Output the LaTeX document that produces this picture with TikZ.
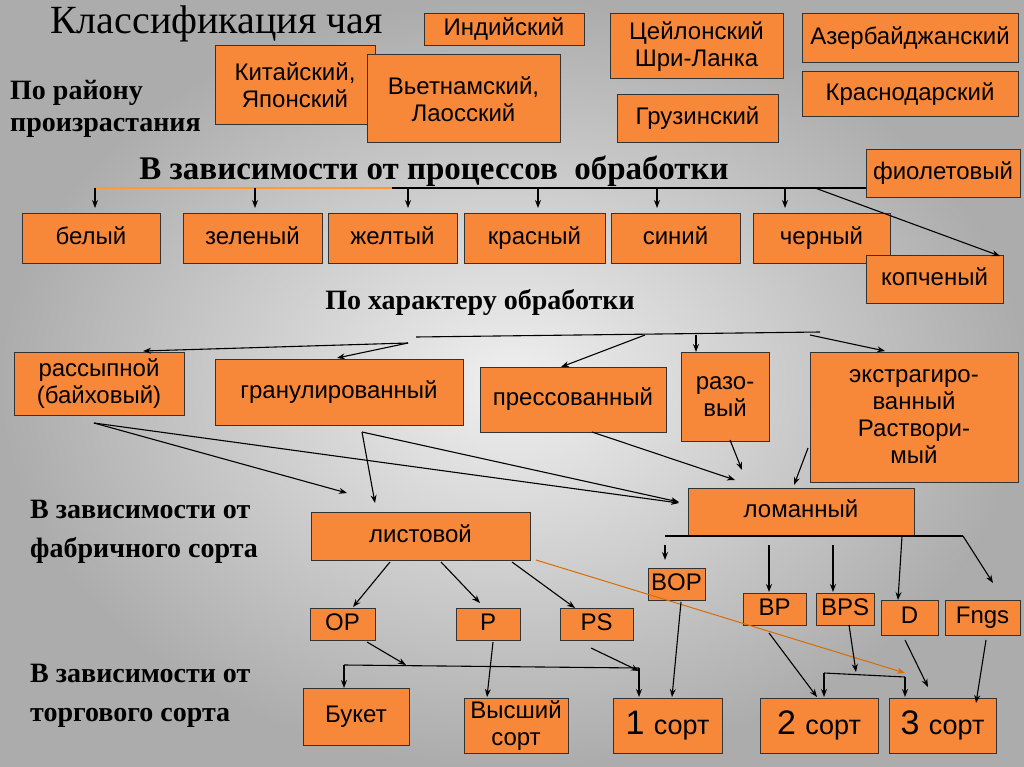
\documentclass[tikz,border=0pt]{standalone}
\usepackage{fontspec}
\setmainfont{Liberation Sans}
\newfontfamily\serifb{Liberation Serif}
\usetikzlibrary{arrows.meta}
\definecolor{org}{HTML}{F7883A}
\newcommand\bx[6]{\node[box,minimum width={(#4-#2)*1pt},minimum height={(#5-#3)*1pt}] (#1) at ({(#2+#4)/2},{(#3+#5)/2}) {#6};}
\newcommand\bs[6]{\node[box,text height=17pt,text depth=5pt,minimum width={(#4-#2)*1pt},minimum height={(#5-#3)*1pt}] (#1) at ({(#2+#4)/2},{(#3+#5)/2}) {#6};}
\tikzset{
 box/.style={draw=black!80,line width=1pt,fill=org,inner sep=1pt,align=center,font=\fontsize{24}{27}\selectfont},
 ar/.style={-{Stealth[length=8pt,width=6pt]},line width=1.1pt},
 ln/.style={line width=1.1pt},
 hd/.style={font=\serifb\bfseries\fontsize{28}{39}\selectfont,align=left,anchor=north west,inner sep=0pt}
}
\newcommand\srt[1]{\fontsize{34}{36}\selectfont #1 \fontsize{27}{30}\selectfont сорт}
\begin{document}
\begin{tikzpicture}[x=1pt,y=-1pt]
\useasboundingbox (0,0) rectangle (1024,767);
\shade[inner color=gray!12,outer color=gray!65] (0,0) rectangle (1024,767);
% title & headings
\node[anchor=north west,inner sep=0pt,font=\serifb\fontsize{40}{44}\selectfont] (t) at (50,6) {Классификация чая};
\node[hd,font=\serifb\bfseries\fontsize{28}{32}\selectfont] (h1) at (10,80) {По району\\произрастания};
\node[font=\serifb\bfseries\fontsize{33}{36}\selectfont,inner sep=0pt] (h2) at (434,171) {В зависимости от процессов\ \ обработки};
\node[font=\serifb\bfseries\fontsize{28}{30}\selectfont,inner sep=0pt] (h3) at (480,302) {По характеру обработки};
\node[hd] (h4) at (30,500) {В зависимости от\\фабричного сорта};
\node[hd] (h5) at (30,664) {В зависимости от\\торгового сорта};
% region boxes
\bs{ind}{424}{14}{584}{46}{Индийский}
\bx{cey}{610}{14}{783}{79}{Цейлонский\\Шри-Ланка}
\bs{az}{802}{14}{1018}{63}{Азербайджанский}
\bx{kit}{215}{46}{375}{125}{Китайский,\\Японский}
\bx{vie}{367}{55}{560}{143}{Вьетнамский,\\Лаосский}
\bs{gru}{617}{95}{778}{143}{Грузинский}
\bs{kra}{802}{72}{1018}{117}{Краснодарский}
% process
\bs{fio}{866}{150}{1020}{198}{фиолетовый}
\bs{bel}{22}{214}{160}{263}{белый}
\bs{zel}{183}{214}{322}{263}{зеленый}
\bs{zhe}{328}{214}{457}{263}{желтый}
\bs{kr}{464}{214}{605}{263}{красный}
\bs{sin}{611}{214}{740}{263}{синий}
\bs{che}{753}{214}{890}{263}{черный}
\bs{kop}{866}{255}{1003}{303}{копченый}
\draw[ln,orange!80] (95,188) -- (392,188);
\draw[ln] (392,188) -- (866,188);
\foreach \x in {95,255,408,538,657,785} \draw[ar] (\x,188) -- (\x,208);
\draw[ar] (815,188) -- (1000,256);
% character
\bx{ras}{14}{352}{184}{415}{рассыпной\\(байховый)}
\bs{gra}{215}{359}{463}{425}{гранулированный}
\bs{pre}{480}{367}{666}{432}{прессованный}
\bx{raz}{681}{352}{769}{441}{разо-\\вый}
\bx{ext}{810}{352}{1018}{482}{экстрагиро-\\ванный\\Раствори-\\мый}
\draw[ln] (416,337) -- (820,332);
\draw[ar] (408,343) -- (143,351);
\draw[ar] (408,343) -- (337,358);
\draw[ar] (645,335) -- (561,367);
\draw[ar] (696,335) -- (696,352);
\draw[ar] (810,335) -- (885,351);
% factory grade
\bs{lom}{688}{488}{914}{535}{ломанный}
\bs{lis}{311}{512}{530}{560}{листовой}
\draw[ar] (94,423) -- (347,493);
\draw[ar] (94,423) -- (679,503);
\draw[ar] (362,432) -- (375,503);
\draw[ar] (362,432) -- (679,502);
\draw[ar] (592,432) -- (735,480);
\draw[ar] (730,440) -- (742,470);
\draw[ar] (808,448) -- (794,485);
\bs{op}{310}{608}{375}{640}{OP}
\bs{p}{456}{608}{520}{640}{P}
\bs{ps}{560}{608}{633}{640}{PS}
\bs{bop}{648}{568}{705}{600}{BOP}
\bs{bp}{743}{593}{806}{625}{BP}
\bs{bps}{816}{593}{874}{625}{BPS}
\bs{d}{881}{600}{938}{635}{D}
\bs{fn}{945}{600}{1020}{635}{Fngs}
\draw[ar] (390,562) -- (353,607);
\draw[ar] (441,562) -- (480,603);
\draw[ar] (512,562) -- (575,608);
\draw[ln] (665,536) -- (963,536);
\draw[ar] (665,545) -- (665,560);
\draw[ar] (769,545) -- (769,592);
\draw[ar] (833,545) -- (833,592);
\draw[ar] (902,536) -- (898,600);
\draw[ar] (963,536) -- (993,583);
\draw[-{Stealth[length=8pt,width=6pt]},line width=1pt,orange!85!black] (536,560) -- (905,673);
% trade grade
\bs{buk}{303}{688}{409}{745}{Букет}
\bx{vys}{464}{698}{568}{753}{Высший\\сорт}
\bx{s1}{613}{698}{722}{753}{\srt{1}}
\bx{s2}{760}{698}{878}{753}{\srt{2}}
\bx{s3}{889}{698}{996}{753}{\srt{3}}
\draw[ar] (367,642) -- (406,665);
\draw[ln] (344,665) -- (639,668);
\draw[ar] (344,665) -- (344,688);
\draw[ar] (639,668) -- (639,697);
\draw[ar] (591,648) -- (639,671);
\draw[ar] (493,642) -- (487,697);
\draw[ar] (681,602) -- (672,697);
\draw[ar] (769,633) -- (817,697);
\draw[ln] (824,673) -- (905,677);
\draw[ar] (824,673) -- (824,697);
\draw[ar] (905,677) -- (905,697);
\draw[ar] (849,625) -- (856,672);
\draw[ar] (905,640) -- (928,687);
\draw[ar] (986,640) -- (976,703);
\end{tikzpicture}
\end{document}
